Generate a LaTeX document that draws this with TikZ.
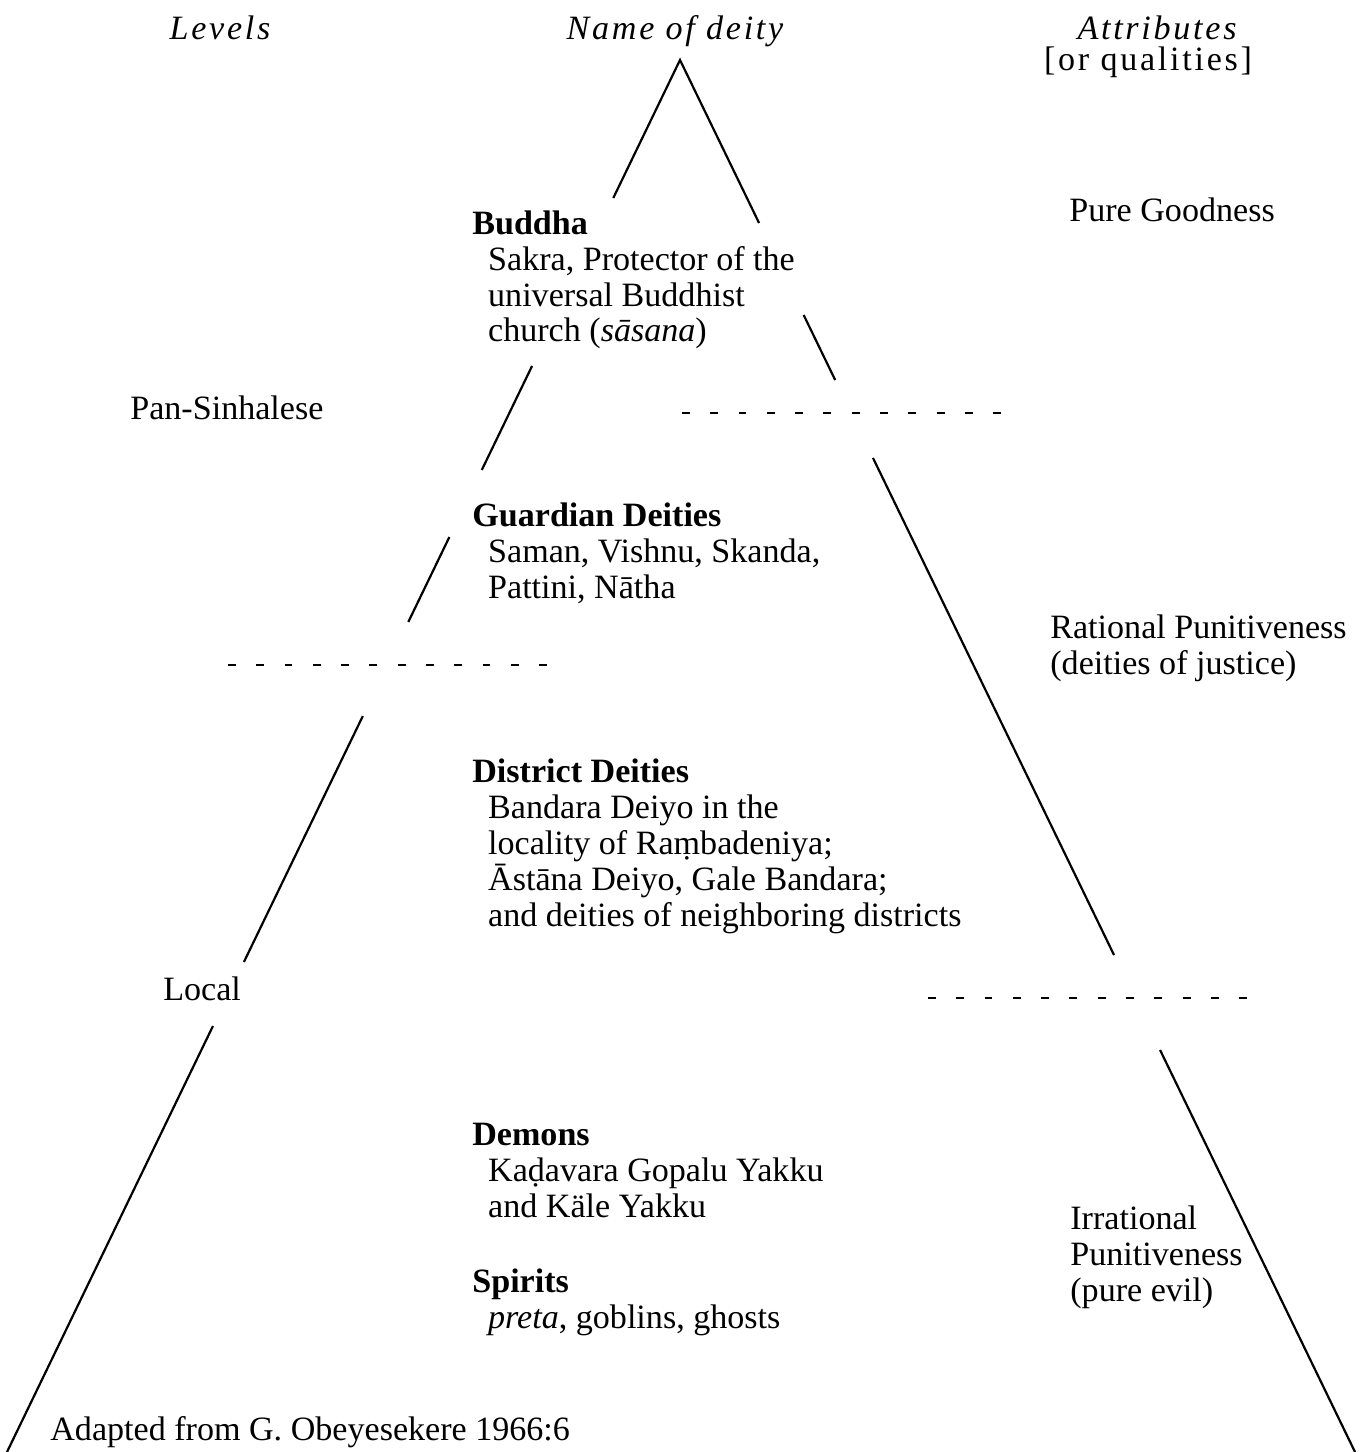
\documentclass[tikz,border=0pt]{standalone}
\usepackage{fontspec}
\setmainfont{Liberation Serif}
\newfontfamily\headfont[LetterSpace=8]{Liberation Serif}
\usetikzlibrary{calc}
\tikzset{
  deitytext/.style = {anchor=base west, align=left, inner sep=0pt,
                      font=\fontsize{19.4}{20.4}\selectfont},
  levellabel/.style = {anchor=base west, inner sep=0pt,
                       font=\fontsize{19.4}{20.4}\selectfont},
  attrlabel/.style = {anchor=base west, align=left, inner sep=0pt,
                      font=\fontsize{19.4}{20.4}\selectfont},
  headlabel/.style = {anchor=base, inner sep=0pt,
                      font=\headfont\fontsize{19.4}{20.4}\selectfont},
  sideline/.style = {line width=1.25pt},
  tierline/.style = {line width=1.6pt, dash pattern=on 4.5pt off 11.6pt},
}
\newcommand{\ind}{\hspace*{9pt}}

\begin{document}
\begin{tikzpicture}[x=0.02cm,y=-0.02cm]

  \useasboundingbox (0,0) rectangle (1363,1452);

  % === Column headings ===
  \node[headlabel] (hlevels) at (220,40) {\itshape Levels};
  \node[headlabel] (hname) at (675,40) {\itshape Name of deity};
  \node[headlabel] (hattr) at (1157,40) {\itshape Attributes};
  \node[headlabel] (hqual) at (1148,71) {[or qualities]};

  % === Sides of the pyramid ===
  \coordinate (apex) at (680,60);
  \coordinate (lbase) at (7,1452);
  \coordinate (rbase) at (1355,1452);

  \draw[sideline, line join=miter] ($(apex)!0.0991!(lbase)$) -- (apex) -- ($(apex)!0.1171!(rbase)$);

  % left side, broken round the texts
  \foreach \a/\b in {0.2198/0.2945, 0.3427/0.4037, 0.4713/0.6480, 0.6940/1} {
    \draw[sideline] ($(apex)!\a!(lbase)$) -- ($(apex)!\b!(lbase)$);
  }
  % right side
  \foreach \a/\b in {0.1832/0.2299, 0.2859/0.6430, 0.7112/1} {
    \draw[sideline] ($(apex)!\a!(rbase)$) -- ($(apex)!\b!(rbase)$);
  }

  % === Tier boundaries ===
  \draw[tierline] (682,413) -- (1003,413);
  \draw[tierline] (228,665) -- (549,665);
  \draw[tierline] (928,998) -- (1249,998);

  % === Levels ===
  \node[levellabel] (pansinh) at (130,420) {Pan-Sinhalese};
  \node[levellabel] (local) at (163,1000) {Local};

  % === Deities (placed at the baseline of the last line) ===
  \node[deitytext] (buddha) at (472,342)
    {\textbf{Buddha}\\ \ind Sakra, Protector of the\\ \ind universal Buddhist\\ \ind church (\textit{sāsana})};
  \node[deitytext] (guardian) at (472,598)
    {\textbf{Guardian Deities}\\ \ind Saman, Vishnu, Skanda,\\ \ind Pattini, Nātha};
  \node[deitytext] (district) at (472,926)
    {\textbf{District Deities}\\ \ind Bandara Deiyo in the\\ \ind locality of Raṃbadeniya;\\
     \ind Āstāna Deiyo, Gale Bandara;\\ \ind and deities of neighboring districts};
  \node[deitytext] (demons) at (472,1217)
    {\textbf{Demons}\\ \ind Kaḍavara Gopalu Yakku\\ \ind and Käle Yakku};
  \node[deitytext] (spirits) at (472,1328)
    {\textbf{Spirits}\\ \ind \textit{preta}, goblins, ghosts};

  % === Attributes ===
  \node[attrlabel] (goodness) at (1069,222) {Pure Goodness};
  \node[attrlabel] (rational) at (1050,674) {Rational Punitiveness\\(deities of justice)};
  \node[attrlabel] (irrational) at (1070,1301) {Irrational\\Punitiveness\\(pure evil)};

  % Source
  \node[levellabel] (source) at (50,1440) {Adapted from G. Obeyesekere 1966:6};

\end{tikzpicture}
\end{document}
